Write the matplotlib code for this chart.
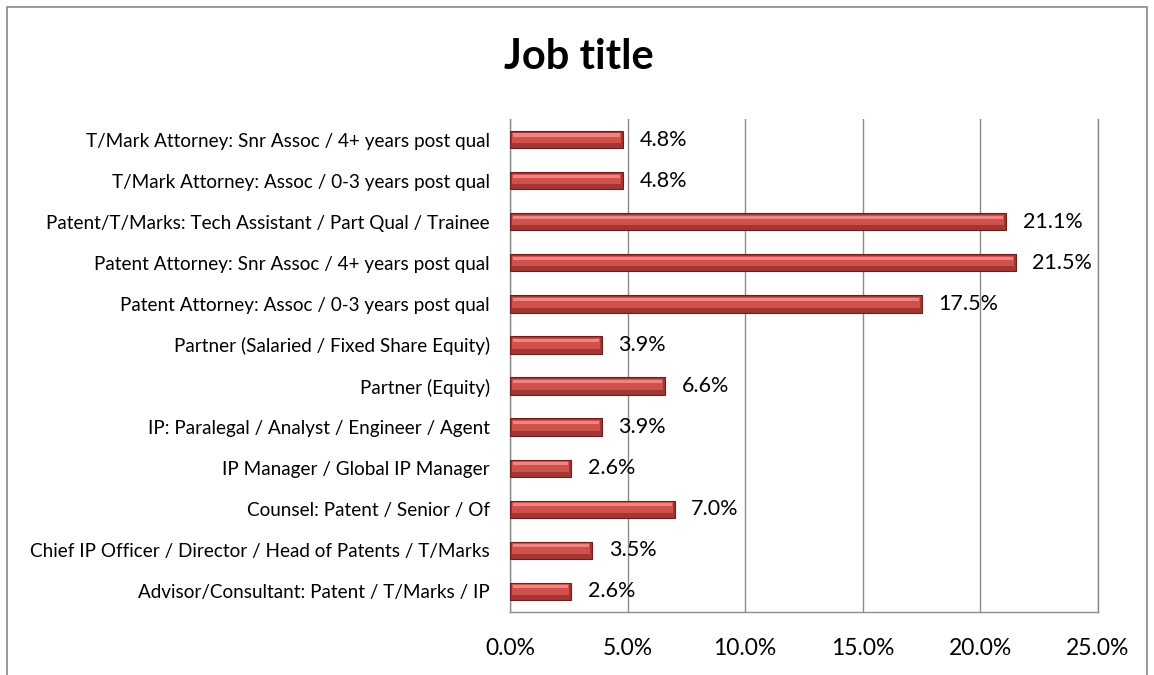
import matplotlib.pyplot as plt
from matplotlib.patches import Rectangle
from matplotlib.ticker import FuncFormatter

plt.rcParams['font.family'] = ['Lato', 'DejaVu Sans']

categories = [
    "Advisor/Consultant: Patent / T/Marks / IP",
    "Chief IP Officer / Director / Head of Patents / T/Marks",
    "Counsel: Patent / Senior / Of",
    "IP Manager / Global IP Manager",
    "IP: Paralegal / Analyst / Engineer / Agent",
    "Partner (Equity)",
    "Partner (Salaried / Fixed Share Equity)",
    "Patent Attorney: Assoc / 0-3 years post qual",
    "Patent Attorney: Snr Assoc / 4+ years post qual",
    "Patent/T/Marks: Tech Assistant / Part Qual / Trainee",
    "T/Mark Attorney: Assoc / 0-3 years post qual",
    "T/Mark Attorney: Snr Assoc / 4+ years post qual",
]
values = [2.6, 3.5, 7.0, 2.6, 3.9, 6.6, 3.9, 17.5, 21.5, 21.1, 4.8, 4.8]
xticks = [0, 5, 10, 15, 20, 25]

fig = plt.figure(figsize=(11.54, 6.75), dpi=100)
ax = fig.add_axes([510 / 1154, 1 - 612 / 675, 588 / 1154, 493 / 675])

pos = list(range(len(categories)))
h = 0.42
# base bar (dark lower part)
ax.barh(pos, values, height=h, color='#a03733', edgecolor='#6e1f1d', linewidth=0.8, zorder=3)
# main face
ax.barh([p + 0.04 for p in pos], [v - 0.16 for v in values], left=0.08, height=h * 0.62,
        color='#d0504c', linewidth=0, zorder=4)
# highlight near top
ax.barh([p + 0.11 for p in pos], [v - 0.24 for v in values], left=0.12, height=h * 0.18,
        color='#f08480', linewidth=0, zorder=5)

for p, v in zip(pos, values):
    ax.text(v + 0.7, p, f"{v:.1f}%", va='center', ha='left', fontsize=15.5, color='black', zorder=6)

ax.set_xlim(0, 25)
ax.set_ylim(-0.5, len(categories) - 0.5)
ax.set_xticks(xticks)
ax.xaxis.set_major_formatter(FuncFormatter(lambda x, _: f"{x:.1f}%"))
ax.set_yticks(pos)
ax.set_yticklabels(categories, fontsize=13.6)
ax.tick_params(axis='x', length=0, pad=19, labelsize=16.5)
ax.tick_params(axis='y', length=0, pad=14.5)
ax.grid(axis='x', color='#8c8c8c', linewidth=1.0, zorder=0)
ax.spines['top'].set_visible(False)
for side in ['left', 'bottom', 'right']:
    ax.spines[side].set_color('#8c8c8c')
    ax.spines[side].set_linewidth(1.0)

fig.text(0.502, 1 - 57 / 675, "Job title", ha='center', va='center', fontsize=30, fontweight='bold')

fig.patches.append(Rectangle((7 / 1154, -0.05), 1140 / 1154, 1.05 - 7 / 675,
                             transform=fig.transFigure, fill=False, edgecolor='#888888', linewidth=1.2))

fig.savefig("out.png", dpi=100)
